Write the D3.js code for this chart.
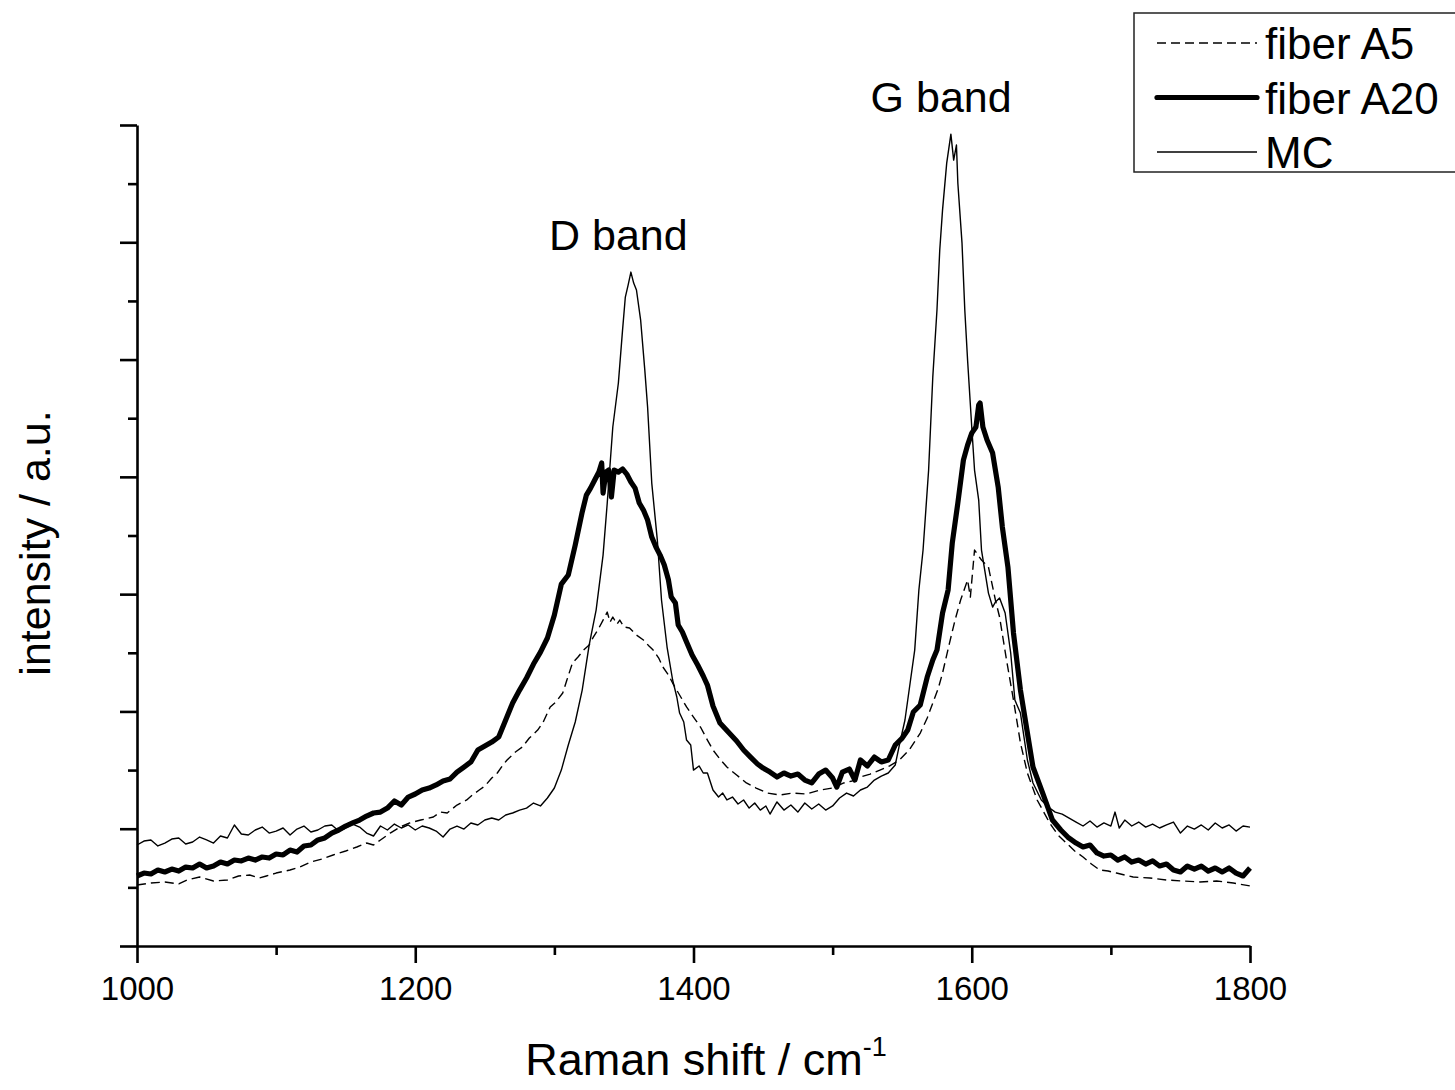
<!DOCTYPE html>
<html>
<head>
<meta charset="utf-8">
<script src="https://cdn.jsdelivr.net/npm/d3@7"></script>
<style>
  body { margin: 0; background: #fff; }
  svg text { font-family: "Liberation Sans", Arial, sans-serif; fill: #000; }
</style>
</head>
<body>
<div id="chart"></div>
<script>
// Raman spectra, [shift cm-1, intensity a.u.]
const mcData = [
  [1000,0.861],[1005,0.895],[1010,0.904],[1015,0.853],[1020,0.878],[1025,0.912],[1030,0.921],[1035,0.870],
  [1040,0.887],[1045,0.929],[1050,0.904],[1055,0.878],[1060,0.938],[1065,0.921],[1070,1.032],[1075,0.955],
  [1080,0.946],[1085,0.989],[1090,1.014],[1095,0.963],[1100,0.980],[1105,1.006],[1110,0.946],[1115,0.997],
  [1120,1.023],[1125,0.972],[1130,0.989],[1135,1.023],[1140,1.032],[1145,0.980],[1150,1.006],[1155,1.040],
  [1160,1.014],[1165,0.963],[1170,0.938],[1175,1.023],[1180,0.989],[1185,1.040],[1190,1.006],[1195,1.032],
  [1200,0.989],[1205,1.023],[1210,1.006],[1215,0.980],[1220,0.929],[1225,0.997],[1230,1.023],[1235,0.997],
  [1240,1.049],[1245,1.032],[1250,1.074],[1255,1.091],[1260,1.074],[1265,1.117],[1270,1.134],[1275,1.159],
  [1280,1.176],[1285,1.219],[1290,1.194],[1295,1.262],[1300,1.347],[1305,1.500],[1310,1.714],[1315,1.910],
  [1320,2.182],[1325,2.566],[1330,2.864],[1335,3.333],[1338,3.777],[1342,4.425],[1346,4.800],[1349,5.251],
  [1351,5.533],[1353,5.635],[1355,5.746],[1357,5.652],[1359,5.593],[1362,5.337],[1365,4.910],[1367,4.595],
  [1370,3.947],[1374,3.461],[1377,2.950],[1381,2.549],[1385,2.268],[1388,2.123],[1390,1.986],[1393,1.910],
  [1395,1.756],[1398,1.714],[1400,1.500],[1404,1.535],[1407,1.475],[1410,1.475],[1414,1.330],[1418,1.270],
  [1421,1.304],[1424,1.245],[1428,1.270],[1432,1.211],[1436,1.245],[1440,1.176],[1444,1.219],[1448,1.159],
  [1452,1.194],[1455,1.125],[1460,1.228],[1465,1.159],[1470,1.202],[1475,1.142],[1480,1.219],[1485,1.168],
  [1490,1.211],[1495,1.159],[1500,1.194],[1505,1.262],[1510,1.304],[1515,1.279],[1520,1.330],[1525,1.355],
  [1530,1.415],[1535,1.449],[1540,1.475],[1545,1.543],[1548,1.714],[1552,1.927],[1556,2.268],[1559,2.523],
  [1562,3.035],[1565,3.376],[1569,4.058],[1572,4.851],[1575,5.422],[1577,5.934],[1579,6.274],[1582,6.675],
  [1585,6.922],[1587,6.701],[1589,6.829],[1590,6.505],[1593,5.993],[1595,5.422],[1597,4.996],[1600,4.425],
  [1602,4.058],[1605,3.802],[1607,3.376],[1612,3.009],[1615,2.890],[1617,2.933],[1620,2.967],[1624,2.839],
  [1628,2.498],[1631,2.097],[1635,1.986],[1640,1.586],[1644,1.390],[1650,1.245],[1655,1.185],[1660,1.142],
  [1665,1.125],[1670,1.091],[1675,1.057],[1680,1.023],[1685,1.066],[1690,1.014],[1695,1.049],[1700,1.023],
  [1703,1.142],[1706,1.006],[1710,1.074],[1715,1.023],[1720,1.057],[1725,1.014],[1730,1.040],[1735,1.006],
  [1740,1.032],[1745,1.057],[1750,0.963],[1755,1.023],[1760,0.997],[1765,1.032],[1770,0.989],[1775,1.049],
  [1780,1.006],[1785,1.032],[1790,0.980],[1795,1.023],[1800,1.014]
];

const a20Data = [
  [1000,0.597],[1005,0.622],[1010,0.614],[1015,0.648],[1020,0.631],[1025,0.656],[1030,0.639],[1035,0.673],
  [1040,0.665],[1045,0.699],[1050,0.665],[1055,0.682],[1060,0.716],[1065,0.699],[1070,0.733],[1075,0.725],
  [1080,0.750],[1085,0.733],[1090,0.759],[1095,0.750],[1100,0.784],[1105,0.776],[1110,0.818],[1115,0.801],
  [1120,0.853],[1125,0.861],[1130,0.904],[1135,0.921],[1140,0.963],[1145,0.989],[1150,1.023],[1155,1.049],
  [1160,1.074],[1165,1.108],[1170,1.134],[1175,1.142],[1180,1.176],[1185,1.236],[1190,1.202],[1195,1.270],
  [1200,1.296],[1205,1.330],[1210,1.347],[1215,1.373],[1220,1.407],[1225,1.424],[1230,1.483],[1235,1.526],
  [1240,1.569],[1245,1.671],[1250,1.705],[1255,1.739],[1260,1.782],[1265,1.927],[1270,2.072],[1275,2.182],
  [1280,2.285],[1285,2.404],[1290,2.506],[1295,2.626],[1300,2.822],[1305,3.086],[1310,3.163],[1315,3.419],
  [1320,3.700],[1323,3.845],[1326,3.904],[1329,3.973],[1332,4.041],[1334,4.118],[1335,3.862],[1337,4.041],
  [1339,4.058],[1341,3.828],[1343,4.058],[1346,4.041],[1349,4.067],[1352,4.024],[1355,3.956],[1358,3.904],
  [1361,3.777],[1364,3.717],[1367,3.632],[1370,3.487],[1373,3.402],[1376,3.333],[1379,3.248],[1382,3.120],
  [1384,2.975],[1387,2.924],[1389,2.737],[1392,2.677],[1395,2.592],[1399,2.481],[1403,2.396],[1407,2.302],
  [1410,2.225],[1414,2.046],[1419,1.901],[1425,1.824],[1431,1.748],[1436,1.671],[1441,1.611],[1446,1.552],
  [1450,1.517],[1455,1.483],[1460,1.441],[1465,1.475],[1470,1.449],[1475,1.466],[1480,1.415],[1485,1.390],
  [1490,1.466],[1495,1.500],[1500,1.432],[1503,1.355],[1507,1.483],[1512,1.509],[1516,1.415],[1520,1.586],
  [1525,1.535],[1530,1.611],[1535,1.569],[1540,1.586],[1545,1.714],[1550,1.773],[1554,1.841],[1558,1.995],
  [1563,2.055],[1568,2.293],[1572,2.438],[1575,2.523],[1579,2.839],[1583,3.035],[1586,3.436],[1590,3.777],
  [1594,4.143],[1597,4.271],[1600,4.373],[1603,4.425],[1605,4.612],[1606,4.629],[1608,4.425],[1611,4.314],
  [1615,4.203],[1619,3.913],[1622,3.572],[1626,3.231],[1630,2.668],[1635,2.182],[1640,1.816],[1644,1.526],
  [1651,1.304],[1658,1.074],[1664,0.989],[1669,0.929],[1675,0.878],[1680,0.844],[1685,0.861],[1690,0.793],
  [1695,0.767],[1700,0.776],[1705,0.733],[1710,0.759],[1715,0.716],[1720,0.733],[1725,0.699],[1730,0.725],
  [1735,0.682],[1740,0.699],[1745,0.648],[1750,0.631],[1755,0.682],[1760,0.656],[1765,0.682],[1770,0.639],
  [1775,0.665],[1780,0.631],[1785,0.665],[1790,0.622],[1795,0.597],[1800,0.665]
];

const a5Data = [
  [1000,0.520],[1010,0.537],[1020,0.546],[1030,0.529],[1036,0.563],[1045,0.588],[1055,0.554],[1065,0.563],
  [1073,0.597],[1081,0.605],[1088,0.580],[1093,0.597],[1100,0.622],[1110,0.648],[1117,0.673],[1125,0.716],
  [1133,0.742],[1141,0.776],[1150,0.810],[1158,0.844],[1165,0.878],[1170,0.861],[1175,0.904],[1182,0.963],
  [1189,1.014],[1196,1.049],[1204,1.074],[1213,1.100],[1218,1.142],[1223,1.134],[1230,1.202],[1237,1.245],
  [1241,1.287],[1246,1.330],[1250,1.364],[1255,1.432],[1259,1.475],[1263,1.543],[1266,1.586],[1272,1.654],
  [1277,1.697],[1282,1.773],[1288,1.841],[1292,1.910],[1297,2.038],[1301,2.080],[1306,2.157],[1309,2.268],
  [1313,2.413],[1317,2.464],[1321,2.523],[1325,2.566],[1328,2.634],[1332,2.711],[1335,2.779],[1338,2.847],
  [1340,2.762],[1342,2.805],[1345,2.745],[1347,2.779],[1350,2.720],[1354,2.711],[1359,2.651],[1364,2.609],
  [1368,2.558],[1371,2.523],[1375,2.455],[1378,2.379],[1382,2.310],[1385,2.242],[1390,2.140],[1395,2.038],
  [1400,1.952],[1405,1.867],[1410,1.756],[1414,1.671],[1419,1.594],[1424,1.526],[1431,1.458],[1438,1.390],
  [1445,1.347],[1453,1.304],[1462,1.287],[1471,1.304],[1481,1.296],[1491,1.330],[1500,1.347],[1508,1.390],
  [1514,1.407],[1520,1.441],[1527,1.466],[1534,1.500],[1541,1.535],[1548,1.586],[1555,1.671],[1563,1.816],
  [1568,1.944],[1572,2.072],[1576,2.199],[1579,2.327],[1584,2.583],[1588,2.779],[1592,2.950],[1597,3.120],
  [1599,2.975],[1602,3.376],[1605,3.325],[1607,3.291],[1612,3.231],[1617,2.950],[1620,2.805],[1625,2.438],
  [1630,2.097],[1635,1.731],[1640,1.475],[1647,1.245],[1656,1.049],[1662,0.946],[1668,0.878],[1674,0.810],
  [1680,0.759],[1686,0.699],[1692,0.648],[1698,0.639],[1704,0.622],[1710,0.605],[1716,0.588],[1728,0.580],
  [1740,0.563],[1752,0.554],[1764,0.546],[1776,0.554],[1788,0.537],[1800,0.512]
];

const xMajorTicks = [1000, 1200, 1400, 1600, 1800];
const xMinorTicks = [1100, 1300, 1500, 1700];
const yMajorTicks = [0, 1, 2, 3, 4, 5, 6, 7];
const yMinorTicks = [0.5, 1.5, 2.5, 3.5, 4.5, 5.5, 6.5];

const legendNames = ['fiber A5', 'fiber A20', 'MC'];

const bandLabels = [
  { text: 'D band', x: 1346, y: 5.93 },
  { text: 'G band', x: 1578, y: 7.11 }
];

const width = 1455, height = 1090;
const margin = { left: 137, right: 205, top: 125, bottom: 144 };

const svg = d3.select('#chart')
  .append('svg')
  .attr('width', width)
  .attr('height', height);

const x = d3.scaleLinear()
  .domain([1000, 1800])
  .range([margin.left, width - margin.right]);

const y = d3.scaleLinear()
  .domain([0, 7])
  .range([height - margin.bottom, margin.top]);

// series styles
const series = [
  { data: a5Data, width: 1.4, dash: '9,5' },
  { data: a20Data, width: 5.2, dash: null },
  { data: mcData, width: 1.4, dash: null }
];

const line = d3.line()
  .x(d => x(d[0]))
  .y(d => y(d[1]));

svg.selectAll('.spec')
  .data(series)
  .enter()
  .append('path')
  .attr('class', 'spec')
  .attr('d', d => line(d.data))
  .attr('fill', 'none')
  .attr('stroke', '#000')
  .attr('stroke-width', d => d.width)
  .attr('stroke-linejoin', 'round')
  .attr('stroke-dasharray', d => d.dash);

// axes
const xAxis = svg.append('g')
  .attr('transform', `translate(0,${y(0)})`)
  .call(d3.axisBottom(x).tickValues(xMajorTicks).tickSize(17).tickSizeOuter(0)
    .tickPadding(14).tickFormat(d3.format('d')));

svg.append('g')
  .attr('transform', `translate(0,${y(0)})`)
  .call(d3.axisBottom(x).tickValues(xMinorTicks).tickSize(9).tickFormat(''))
  .call(g => g.select('.domain').remove());

svg.append('g')
  .attr('transform', `translate(${x(1000)},0)`)
  .call(d3.axisLeft(y).tickValues(yMajorTicks).tickSize(17).tickSizeOuter(0).tickFormat(''));

svg.append('g')
  .attr('transform', `translate(${x(1000)},0)`)
  .call(d3.axisLeft(y).tickValues(yMinorTicks).tickSize(9).tickFormat(''))
  .call(g => g.select('.domain').remove());

svg.selectAll('.domain, .tick line')
  .attr('stroke', '#000')
  .attr('stroke-width', 2.6);

xAxis.selectAll('.tick text')
  .attr('font-size', 33)
  .attr('font-family', '"Liberation Sans", Arial, sans-serif');

// axis titles
const xTitle = svg.append('text')
  .attr('x', 706)
  .attr('y', 1075)
  .attr('text-anchor', 'middle')
  .attr('font-size', 45);
xTitle.append('tspan').text('Raman shift / cm');
xTitle.append('tspan').attr('font-size', 27).attr('dy', -19).text('-1');

svg.append('text')
  .attr('transform', 'translate(50,543) rotate(-90)')
  .attr('text-anchor', 'middle')
  .attr('font-size', 43)
  .text('intensity / a.u.');

// band labels
svg.selectAll('.band')
  .data(bandLabels)
  .enter()
  .append('text')
  .attr('class', 'band')
  .attr('x', d => x(d.x))
  .attr('y', d => y(d.y))
  .attr('text-anchor', 'middle')
  .attr('font-size', 43)
  .text(d => d.text);

// legend
const legend = svg.append('g');
legend.append('rect')
  .attr('x', 1134).attr('y', 13)
  .attr('width', 340).attr('height', 159)
  .attr('fill', '#fff')
  .attr('stroke', '#222')
  .attr('stroke-width', 1.5);

const rows = legend.selectAll('.row')
  .data(series)
  .enter()
  .append('g')
  .attr('class', 'row')
  .attr('transform', (d, i) => `translate(1157,${43 + i * 54.5})`);

rows.append('line')
  .attr('x1', 0).attr('x2', 100)
  .attr('stroke', '#000')
  .attr('stroke-width', d => d.width)
  .attr('stroke-linecap', d => d.width > 2 ? 'round' : 'butt')
  .attr('stroke-dasharray', d => d.dash);

rows.append('text')
  .attr('x', 108)
  .attr('y', 16)
  .attr('font-size', 44)
  .text((d, i) => legendNames[i]);
</script>
</body>
</html>
